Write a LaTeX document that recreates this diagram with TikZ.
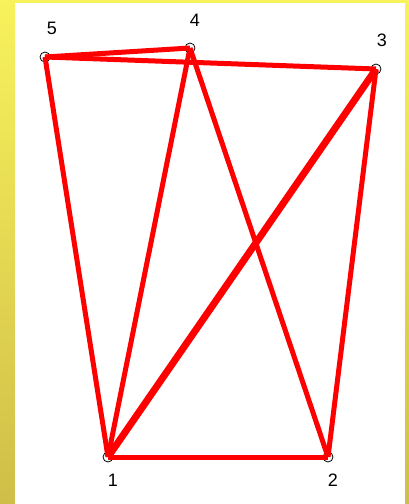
\documentclass[tikz,border=0pt]{standalone}
\usepackage{fontspec}
\setsansfont{Liberation Sans}
\usepackage{tikz}
\usetikzlibrary{positioning}
\definecolor{ylwtop}{RGB}{248,242,92}
\definecolor{ylwbot}{RGB}{208,190,72}
\definecolor{edgered}{RGB}{255,0,0}

\begin{document}
\begin{tikzpicture}[x=1pt,y=-1pt,
  vtx/.style={circle,draw=black,line width=0.8pt,fill=white,inner sep=0pt,minimum size=10pt},
  lbl/.style={font=\sffamily\fontsize{18}{20}\selectfont,inner sep=0pt},
  edge/.style={edgered,line width=5pt}]
  % background
  \shade[top color=ylwtop,bottom color=ylwbot] (0,0) rectangle (409,504);
  \fill[white] (15,3) rectangle (405,504);
  \useasboundingbox (0,0) rectangle (409,504);
  % vertices
  \node[vtx] (n1) at (108,457) {}; \node[vtx] (n2) at (328,457) {};
  \node[vtx] (n3) at (376,69) {}; \node[vtx] (n4) at (190,48) {};
  \node[vtx] (n5) at (45,57) {};
  \node[lbl] (t1) at (113,480) {1}; \node[lbl] (t2) at (333,480) {2};
  \node[lbl] (t3) at (382,40) {3}; \node[lbl] (t4) at (195,20) {4};
  \node[lbl] (t5) at (52,28) {5};
  % edges
  \draw[edge] (n5.center)--(n4.center); \draw[edge] (n5.center)--(n3.center);
  \draw[edge] (n5.center)--(n1.center); \draw[edge] (n4.center)--(n1.center);
  \draw[edge] (n4.center)--(n2.center); \draw[edge] (n3.center)--(n2.center);
  \draw[edge,line width=7pt] (n3.center)--(n1.center);
  \draw[edge] (n1.center)--(n2.center);
\end{tikzpicture}
\end{document}
